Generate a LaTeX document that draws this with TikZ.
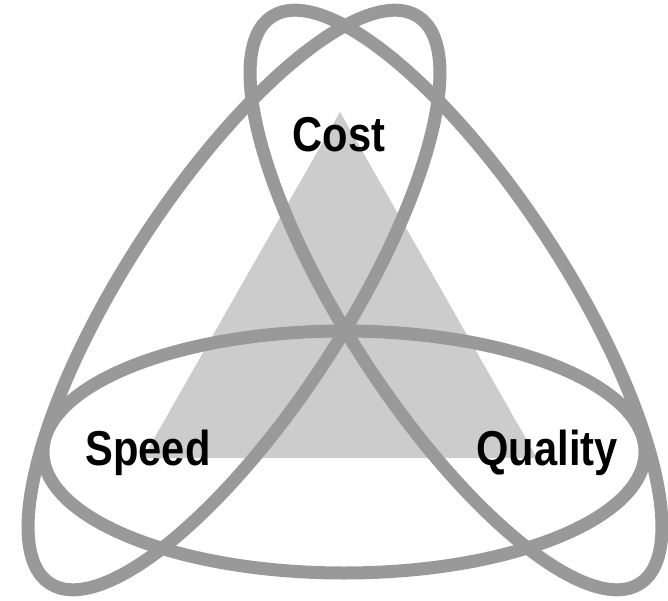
\documentclass[tikz,border=0pt]{standalone}
\usepackage{fontspec}
\newfontfamily\labelfont[FakeStretch=0.85]{Liberation Sans}
\usepackage{tikz}
\definecolor{ringgray}{HTML}{999999}
\definecolor{trianglegray}{HTML}{CCCCCC}
\tikzset{
  ring/.style={draw=ringgray,line width=13pt},
  core triangle/.style={fill=trianglegray},
  corner label/.style={font=\labelfont\bfseries\fontsize{49}{55}\selectfont,
    text=black,inner sep=0pt,anchor=base},
}
\begin{document}
\begin{tikzpicture}[x=1pt,y=1pt]
  \useasboundingbox (0,0) rectangle (668,600);
  % shaded triangle behind the rings
  \coordinate (apex) at (340,488);
  \coordinate (left corner) at (143,142);
  \coordinate (right corner) at (537,142);
  \fill[core triangle] (apex) -- (left corner) -- (right corner) -- cycle;
  % the three rings
  \draw[ring] (344,148) ellipse[x radius=301pt,y radius=121pt];
  \draw[ring,rotate around={57:(234,300)}] (234,300)
    ellipse[x radius=338pt,y radius=110pt];
  \draw[ring,rotate around={-57:(456,300)}] (456,300)
    ellipse[x radius=338pt,y radius=110pt];
  % labels
  \node[corner label] (cost) at (339,448) {Cost};
  \node[corner label] (speed) at (148,135) {Speed};
  \node[corner label] (quality) at (547,135) {Quality};
\end{tikzpicture}
\end{document}
